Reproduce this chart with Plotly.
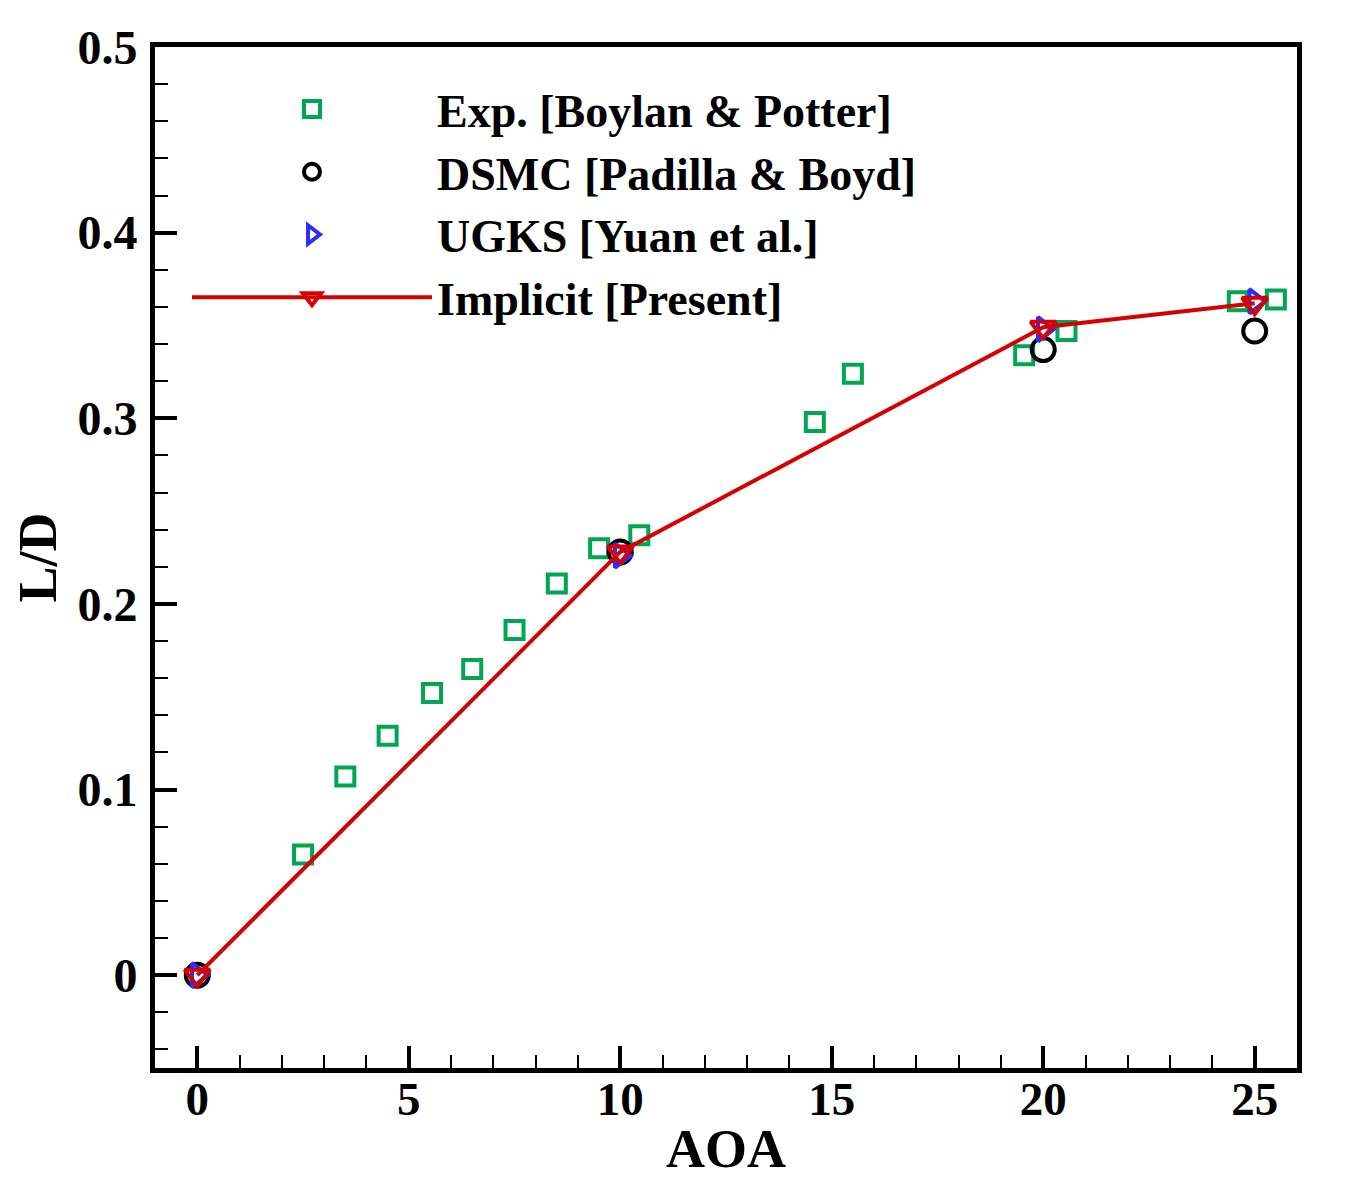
import plotly.graph_objects as go

# ---- data ----
exp_aoa = [2.5, 3.5, 4.5, 5.55, 6.5, 7.5, 8.5, 9.5, 10.45, 14.6, 15.5, 19.55, 20.55, 24.6, 25.5]
exp_ld = [0.065, 0.107, 0.129, 0.152, 0.165, 0.186, 0.211, 0.230, 0.237, 0.298, 0.324, 0.334, 0.347, 0.363, 0.364]

dsmc_aoa = [0, 10, 20, 25]
dsmc_ld = [0.0, 0.228, 0.337, 0.347]

ugks_aoa = [0, 10, 20, 25]
ugks_ld = [0.0, 0.226, 0.348, 0.363]

impl_aoa = [0, 10, 20, 25]
impl_ld = [0.0, 0.228, 0.349, 0.362]

y_ticks = [0, 0.1, 0.2, 0.3, 0.4, 0.5]
y_ticktext = ["0", "0.1", "0.2", "0.3", "0.4", "0.5"]
x_ticks = [0, 5, 10, 15, 20, 25]

FONT = "Liberation Serif"
GREEN = "#00a651"
BLUE = "#2d2dff"
RED = "#d60000"

fig = go.Figure()
fig.add_trace(go.Scatter(
    x=exp_aoa, y=exp_ld, mode="markers", name="Exp. [Boylan &amp; Potter]",
    marker=dict(symbol="square-open", size=18, color=GREEN, line=dict(width=4, color=GREEN)),
))
fig.add_trace(go.Scatter(
    x=dsmc_aoa, y=dsmc_ld, mode="markers", name="DSMC [Padilla &amp; Boyd]",
    marker=dict(symbol="circle-open", size=23, color="black", line=dict(width=4, color="black")),
))
fig.add_trace(go.Scatter(
    x=ugks_aoa, y=ugks_ld, mode="markers", name="UGKS [Yuan et al.]",
    marker=dict(symbol="triangle-right-open", size=21, color=BLUE, line=dict(width=4, color=BLUE)),
))
fig.add_trace(go.Scatter(
    x=impl_aoa, y=impl_ld, mode="lines+markers", name="Implicit [Present]",
    line=dict(color=RED, width=4),
    marker=dict(symbol="triangle-down-open", size=22, color=RED, line=dict(width=4, color=RED)),
))

axis_common = dict(
    showgrid=False, zeroline=False, showline=True, linecolor="black", linewidth=5,
    mirror=True, ticks="inside", tickcolor="black", tickwidth=4,
)

fig.update_xaxes(
    range=[-1, 26], tickmode="array", tickvals=x_ticks, ticklen=22,
    ticklabelstandoff=-14,
    tickfont=dict(family=FONT, size=47, color="black", weight="bold"),
    minor=dict(dtick=1, ticks="inside", ticklen=13, tickwidth=2, tickcolor="black", showgrid=False),
    title=dict(text="AOA", font=dict(family=FONT, size=54, color="black", weight="bold"), standoff=6),
    **axis_common,
)
fig.update_yaxes(
    range=[-0.05, 0.5], tickmode="array", tickvals=y_ticks, ticktext=y_ticktext, ticklen=22,
    ticklabelstandoff=3,
    tickfont=dict(family=FONT, size=48, color="black", weight="bold"),
    minor=dict(dtick=0.02, tick0=0, ticks="inside", ticklen=13, tickwidth=2, tickcolor="black", showgrid=False),
    title=dict(text="L/D", font=dict(family=FONT, size=54, color="black", weight="bold"), standoff=20),
    **axis_common,
)

fig.update_layout(
    width=1343, height=1192,
    margin=dict(l=140, r=54, t=39, b=132),
    paper_bgcolor="white", plot_bgcolor="white",
    showlegend=True,
    legend=dict(
        x=0.028, y=0.975, xanchor="left", yanchor="top",
        bgcolor="rgba(0,0,0,0)", borderwidth=0,
        font=dict(family=FONT, size=46, color="black", weight="bold"),
        itemwidth=240, tracegroupgap=0,
    ),
)

fig.write_html("out.html")
